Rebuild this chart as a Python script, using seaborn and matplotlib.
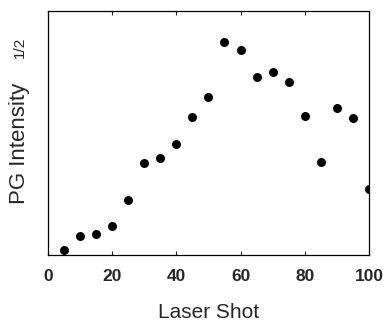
import matplotlib
matplotlib.use("Agg")
import matplotlib.pyplot as plt
import numpy as np
import pandas as pd
import seaborn as sns

# laser shot number and sqrt of PG intensity (arbitrary units)
shots = [5, 10, 15, 20, 25, 30, 35, 40, 45, 50, 55, 60, 65, 70, 75, 80, 85, 90, 95, 100]
intensity = [5, 19, 20.7, 29, 55, 91.7, 96.7, 111, 138.3, 158.3,
             213.3, 205, 177.7, 183.3, 173.3, 139.3, 93.3, 147.3, 136.7, 65.7]
x_ticks = [0, 20, 40, 60, 80, 100]

data = pd.DataFrame({"shot": shots, "intensity": intensity})

sns.set_theme(style="ticks")
plt.rcParams["font.family"] = ["Liberation Sans", "DejaVu Sans"]

fig = plt.figure(figsize=(3.86, 3.21), dpi=100)
ax = fig.add_axes([0.124, 0.206, 0.832, 0.760])

sns.scatterplot(data=data, x="shot", y="intensity", ax=ax,
                color="black", s=42, edgecolor="black", linewidth=0, zorder=3)

ax.set_xlim(0, 100)
ax.set_ylim(0, 244)
ax.set_xticks(x_ticks)
ax.set_yticks([])
ax.tick_params(axis="x", direction="in", length=3, width=0.8, labelsize=12.5,
               pad=10, top=True)
for lbl in ax.get_xticklabels():
    lbl.set_fontweight("bold")
for sp in ax.spines.values():
    sp.set_visible(True)
    sp.set_linewidth(0.9)
    sp.set_color("black")

ax.set_xlabel("Laser Shot", fontsize=15, labelpad=14)
ax.set_ylabel("PG Intensity", fontsize=16)
ax.yaxis.set_label_coords(-0.055, 0.455)
# exponent sits a little apart from the label, as in the original
ax.text(-0.088, 0.85, "1/2", transform=ax.transAxes, rotation=90,
        ha="center", va="center", fontsize=11)

fig.savefig("out.png", dpi=100)
